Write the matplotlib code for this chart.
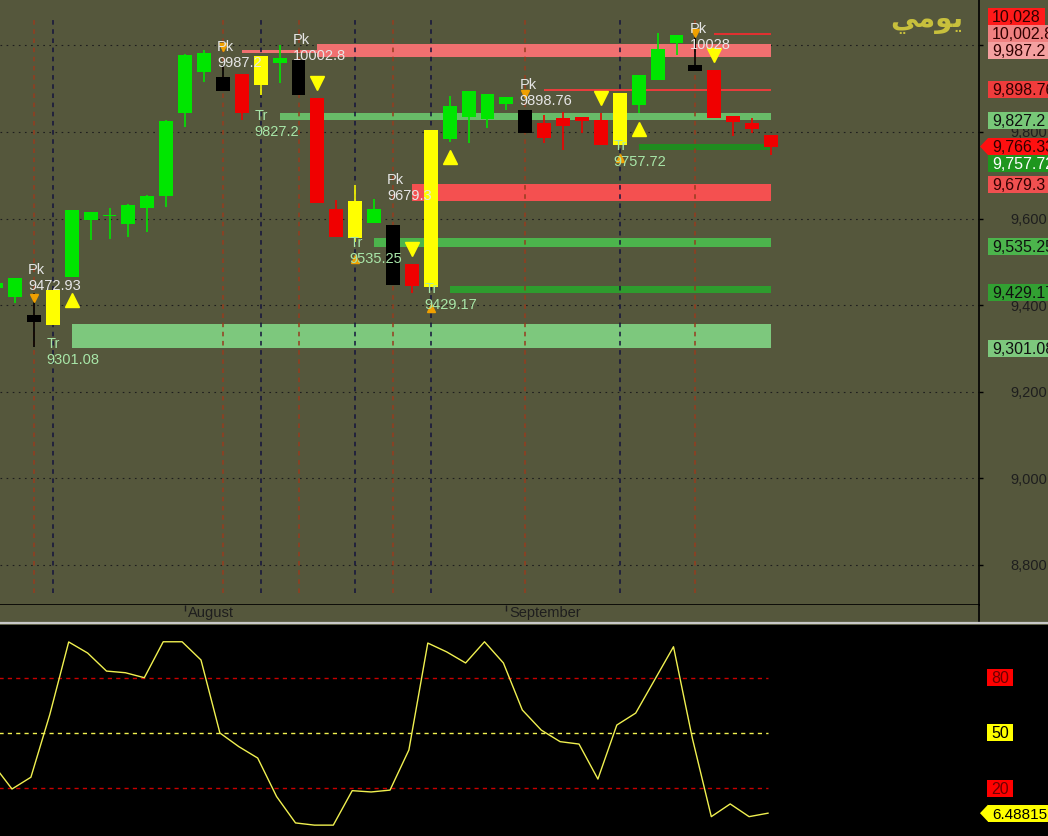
import matplotlib
matplotlib.use("Agg")
import matplotlib.pyplot as plt
import matplotlib.transforms as mtransforms
from matplotlib.patches import Rectangle, Polygon
from matplotlib.lines import Line2D
from matplotlib.ticker import FuncFormatter, FixedLocator

plt.rcParams['font.family'] = ['Liberation Sans', 'DejaVu Sans']

# ---------------- data ----------------
bar_index = list(range(-1, 41))
bar_kind = ['G', 'G', 'K', 'Y', 'G', 'G', 'G', 'G', 'G', 'G', 'G', 'G',
            'K', 'R', 'Y', 'G', 'K', 'R', 'R', 'Y', 'G', 'K', 'R', 'Y',
            'G', 'G', 'G', 'G', 'K', 'R', 'R', 'R', 'R', 'Y', 'G', 'G',
            'G', 'K', 'R', 'R', 'R', 'R']
opens = [9440, 9419, 9377, 9354, 9465, 9597, 9606, 9588, 9624, 9652, 9844, 9939,
         9927, 9934, 9909, 9959, 9966, 9879, 9622, 9555, 9590, 9585, 9495, 9442,
         9784, 9835, 9830, 9865, 9851, 9821, 9832, 9835, 9828, 9770, 9862, 9920,
         10006, 9955, 9943, 9837, 9821, 9793]
highs = [9452, 9463, 9428, 9435, 9620, 9615, 9624, 9633, 9654, 9827, 9980, 9989,
         9955, 9934, 9976, 10001, 9966, 9879, 9643, 9678, 9645, 9585, 9495, 9805,
         9883, 9895, 9888, 9881, 9851, 9839, 9846, 9835, 9844, 9890, 9932, 10029,
         10024, 10031, 9943, 9837, 9832, 9793]
lows = [9430, 9405, 9303, 9354, 9465, 9551, 9553, 9557, 9569, 9627, 9812, 9915,
        9895, 9828, 9885, 9913, 9885, 9636, 9558, 9545, 9590, 9447, 9428, 9442,
        9777, 9775, 9809, 9851, 9798, 9775, 9758, 9798, 9770, 9770, 9844, 9920,
        9978, 9941, 9832, 9791, 9798, 9747]
closes = [9452, 9463, 9361, 9435, 9620, 9615, 9609, 9631, 9652, 9825, 9978, 9982,
          9895, 9844, 9976, 9971, 9885, 9636, 9558, 9641, 9622, 9447, 9444, 9805,
          9860, 9895, 9888, 9881, 9798, 9786, 9814, 9825, 9770, 9890, 9932, 9992,
          10024, 9941, 9832, 9823, 9807, 9766.33]

osc_values = [33, 19.6, 26, 60, 99.4, 93.4, 83.6, 82.7, 80, 99.5, 99.5, 89.6,
              50, 42.6, 36.4, 15.5, 1.2, 0, 0, 18.7, 18, 19, 40.8, 98.8,
              94, 88, 99.5, 88, 62.5, 51.6, 45.3, 44, 25, 54.3, 60.8, 78.8,
              96.8, 47, 4.6, 11.5, 4.6, 6.48815]
osc_levels = [80, 50, 20]

pk_idx = [1, 11, 15, 20, 27, 36]
pk_val = [9472.93, 9987.2, 10002.8, 9679.3, 9898.76, 10028]
tr_idx = [2, 13, 18, 22, 32]
tr_val = [9301.08, 9827.2, 9535.25, 9429.17, 9757.72]

pk_mark_idx = [1, 11, 27, 36]
pk_mark_val = [9417, 9996, 9887, 10028]
tr_mark_idx = [18, 22, 32]
tr_mark_val = [9507, 9393, 9741]

sig_dn_idx = [16, 21, 31, 37]
sig_dn_val = [9913, 9529, 9878, 9977]
sig_up_idx = [3, 23, 33]
sig_up_val = [9412, 9743, 9807]

zone_start = [3, 14, 12, 16, 28, 37, 21, 19, 23, 33]
zone_lo = [9301.08, 9827.2, 9982, 9973, 9895, 10024, 9640, 9535.25, 9429.17, 9757.72]
zone_hi = [9356, 9844, 9989, 10004, 9900, 10029, 9680, 9555, 9444, 9772]
zone_color = ['#7dc87d', '#68bc68', '#f07070', '#f07070', '#e83c3c', '#e03030',
              '#f45050', '#4cb44c', '#2e9c2e', '#1f8c1f']
zone_end = 40

price_labels = [10028, 10002.8, 9987.2, 9898.76, 9827.2, 9766.33, 9757.72,
                9679.3, 9535.25, 9429.17, 9301.08]
price_label_fc = ['#ff1a1a', '#f08080', '#f4a0a0', '#f03c3c', '#78c878', '#ff1010',
                  '#1e961e', '#f05050', '#4cb44c', '#32a032', '#7dc87d']
price_label_tc = ['#300000', '#300000', '#300000', '#300000', '#101010', '#300000',
                  '#ffffff', '#300000', '#101010', '#101010', '#101010']
last_label = 5

price_ticks = [8800, 9000, 9200, 9400, 9600, 9800, 10000]
month_idx = [9, 26]
month_names = ['August', 'September']
title_text = "\uFEF2\uFEE3\uFEEE\uFEF3"   # "يومي" in presentation forms

# ---------------- style ----------------
W, H = 1048, 836
BG = '#55573c'
KIND_COLOR = {'G': '#00e600', 'R': '#f00000', 'Y': '#ffff00', 'K': '#000000'}
SPACING = 18.9
X0PX = 15.0

fig = plt.figure(figsize=(W / 100, H / 100), dpi=100)
fig.patch.set_facecolor(BG)

xlo = -X0PX / SPACING
ax = fig.add_axes([0, 1 - 605 / H, 979 / W, 605 / H])
ax.set_facecolor(BG)
ax.set_xlim(xlo, xlo + 979 / SPACING)
ax.set_ylim(8707.6, 10104.8)

for s in ['left', 'top']:
    ax.spines[s].set_visible(False)
ax.spines['right'].set_color('black')
ax.spines['bottom'].set_color('black')
ax.spines['right'].set_linewidth(1.2)
ax.spines['bottom'].set_linewidth(1.2)
ax.set_xticks([])
ax.yaxis.tick_right()
ax.yaxis.set_major_locator(FixedLocator(price_ticks))
ax.yaxis.set_major_formatter(FuncFormatter(lambda v, p: f"{int(v):,}"))
ax.tick_params(axis='y', direction='out', length=3, width=1, color='black',
               labelsize=10.5, labelcolor='#1e1e1e', pad=46)
for tl in ax.get_yticklabels():
    tl.set_ha('right')
ax.yaxis.grid(True, color='#1e1e1e', linestyle=(0, (1.5, 4)), linewidth=0.8)
ax.set_axisbelow(True)

# zones
for s, lo, hi, c in zip(zone_start, zone_lo, zone_hi, zone_color):
    ax.barh((lo + hi) / 2, zone_end - s, left=s, height=hi - lo, color=c,
            edgecolor='none', zorder=1.5)

# signal vertical lines
vtrans = mtransforms.blended_transform_factory(ax.transData, ax.transAxes)
ax.vlines(pk_idx, 1 - 593 / 605, 1 - 17 / 605, transform=vtrans, colors='#963c1e',
          linestyles=(0, (3, 3)), linewidth=1.1, zorder=1.6)
ax.vlines(tr_idx, 1 - 593 / 605, 1 - 17 / 605, transform=vtrans, colors='#14143c',
          linestyles=(0, (3, 3)), linewidth=1.1, zorder=1.6)

# candles
colors = [KIND_COLOR[k] for k in bar_kind]
ax.vlines(bar_index, lows, highs, colors=colors, linewidth=1.2, zorder=2)
bottoms = [min(o, c) for o, c in zip(opens, closes)]
heights = [max(abs(c - o), 3) for o, c in zip(opens, closes)]
ax.bar(bar_index, heights, bottom=bottoms, width=0.74, color=colors,
       edgecolor='none', zorder=2.1)

# markers
ax.plot(sig_dn_idx, sig_dn_val, 'v', color='#ffff00', markersize=10, zorder=2.5)
ax.plot(sig_up_idx, sig_up_val, '^', color='#ffff00', markersize=10, zorder=2.5)
ax.plot(pk_mark_idx, pk_mark_val, 'v', color='#f0a000', markersize=6, zorder=2.6)
ax.plot(tr_mark_idx, tr_mark_val, '^', color='#f0a000', markersize=6, zorder=2.6)


def fmt(v):
    return f"{v:.2f}".rstrip('0').rstrip('.')


for i, v in zip(pk_idx, pk_val):
    ax.annotate(f"Pk\n{fmt(v)}", xy=(i, v), xytext=(-6 * 0.72, 11 * 0.72),
                textcoords='offset points', ha='left', va='top', fontsize=10.5,
                color='#e6e6e6', linespacing=1.2, zorder=3)
for i, v in zip(tr_idx, tr_val):
    ax.annotate(f"Tr\n{fmt(v)}", xy=(i, v), xytext=(-6 * 0.72, 11 * 0.72),
                textcoords='offset points', ha='left', va='top', fontsize=10.5,
                color='#a8e6a8', linespacing=1.2, zorder=3)

# date strip
axd = fig.add_axes([0, 1 - 622 / H, 979 / W, 17 / H])
axd.set_facecolor(BG)
axd.set_xlim(ax.get_xlim())
axd.set_ylim(0, 1)
axd.set_xticks([])
axd.set_yticks([])
for s in ['left', 'bottom', 'top']:
    axd.spines[s].set_visible(False)
axd.spines['right'].set_color('black')
axd.spines['right'].set_linewidth(1.2)
axd.vlines(month_idx, 0.62, 1.0, colors='#1e1e1e', linewidth=1)
for i, name in zip(month_idx, month_names):
    axd.annotate(name, xy=(i, 0.3), xytext=(3 * 0.72, 0), textcoords='offset points',
                 ha='left', va='baseline', fontsize=10.5, color='#1e1e1e')

fig.add_artist(Line2D([0, 1], [1 - 623 / H, 1 - 623 / H], transform=fig.transFigure,
                      color='#c8c8c8', linewidth=1.6))

# oscillator
axo = fig.add_axes([0, 0, 1, 211 / H])
axo.set_facecolor('black')
osc_shift = 3 / SPACING
axo.set_xlim(xlo + osc_shift, xlo + osc_shift + W / SPACING)
axo.set_ylim(-5.9, 108.6)
axo.set_xticks([])
axo.set_yticks([])
for s in axo.spines.values():
    s.set_visible(False)
axo.hlines(osc_levels, -1, 40, colors=['#c80000', '#f0f050', '#c80000'],
           linestyles=(0, (3, 3)), linewidth=1)
axo.plot(bar_index, osc_values, color='#f0f050', linewidth=1)

# ---------------- right-side labels ----------------
renderer = fig.canvas.get_renderer()
ident = mtransforms.IdentityTransform()


def box_label(yc, text, fc, tc, arrow=False, xl=988, fixed_w=None, center=False,
              size=11.5):
    if center:
        t = fig.text(xl + fixed_w / 2, yc - 5.5, text, transform=ident, ha='center',
                     va='baseline', fontsize=size, color=tc, zorder=4)
        x1 = xl + fixed_w
    else:
        t = fig.text(xl + 4, yc - 5.5, text, transform=ident, ha='left',
                     va='baseline', fontsize=size, color=tc, zorder=4)
        bb = t.get_window_extent(renderer=renderer)
        x1 = bb.x1 + 4
    fig.add_artist(Rectangle((xl, yc - 8.5), x1 - xl, 17, transform=ident,
                             facecolor=fc, edgecolor='none', zorder=3.5))
    if arrow:
        fig.add_artist(Polygon([(xl - 8, yc), (xl, yc + 8.5), (xl, yc - 8.5)],
                               closed=True, transform=ident, facecolor=fc,
                               edgecolor='none', zorder=3.5))


ypos = [ax.transData.transform((0, v))[1] for v in price_labels]
gap = 17
for i in range(last_label - 1, -1, -1):
    ypos[i] = max(ypos[i], ypos[i + 1] + gap)
for i in range(last_label + 1, len(ypos)):
    ypos[i] = min(ypos[i], ypos[i - 1] - gap)
for i, (v, yc, fc, tc) in enumerate(zip(price_labels, ypos, price_label_fc, price_label_tc)):
    txt = f"{v:,.2f}".rstrip('0').rstrip('.')
    box_label(yc, txt, fc, tc, arrow=(i == last_label))

for lv, fc, tc in zip(osc_levels, ['#ff0000', '#ffff00', '#ff0000'],
                      ['#6e0000', '#000000', '#6e0000']):
    yc = axo.transData.transform((0, lv))[1]
    box_label(yc, str(lv), fc, tc, xl=987, fixed_w=26, center=True)
yc = axo.transData.transform((0, osc_values[-1]))[1]
box_label(yc, f"{osc_values[-1]:.5f}".rstrip('0'), '#ffff00', '#000000', arrow=True,
          size=11)

fig.text(927 / W, 1 - 20 / H, title_text, fontfamily='DejaVu Sans', fontweight='bold',
         fontsize=20, color='#c8c03c', ha='center', va='center')

fig.savefig('out.png', dpi=100, facecolor=fig.get_facecolor())
